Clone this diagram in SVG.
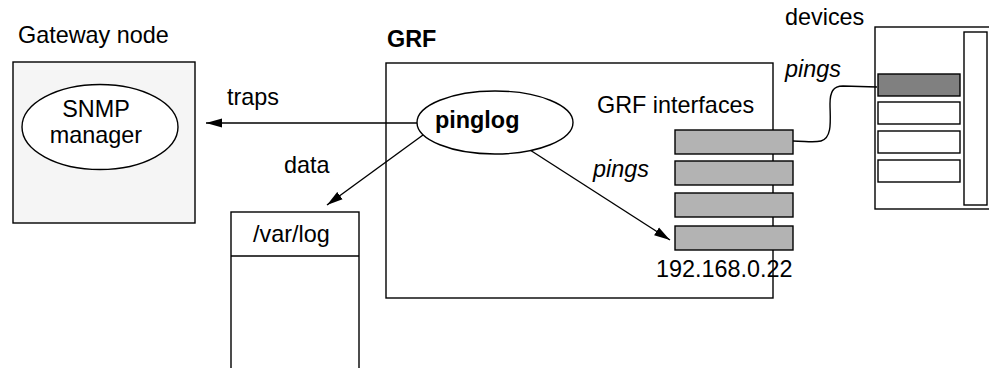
<svg xmlns="http://www.w3.org/2000/svg" width="989" height="368" viewBox="0 0 989 368">
<defs>
<style>
.s{stroke:#000;stroke-width:1.4;}
.t{font-family:"Liberation Sans",Arial,sans-serif;font-size:23.4px;fill:#000;}
.b{font-weight:bold;}
.i{font-style:italic;}
.w{fill:#fff;}
.g{fill:#b3b3b3;}
</style>
<marker id="ah" markerUnits="userSpaceOnUse" markerWidth="17" markerHeight="10" refX="16" refY="5" orient="auto">
<path d="M0,0.5 L16,5 L0,9.5 z" fill="#000"/>
</marker>
</defs>
<rect width="989" height="368" fill="#fff"/>

<g id="gateway">
<text class="t" x="18" y="43">Gateway node</text>
<rect class="s" x="13" y="62" width="182" height="161" fill="#f5f5f5"/>
</g>
<g id="snmp">
<ellipse class="s w" cx="100" cy="127" rx="78" ry="42.5"/>
<text class="t" x="96" y="117" text-anchor="middle">SNMP</text>
<text class="t" x="96" y="143" text-anchor="middle">manager</text>
</g>

<g id="grf">
<rect class="s" x="386" y="63" width="387" height="235" fill="none"/>
<text class="t b" x="387" y="47">GRF</text>
<text class="t" x="597" y="113">GRF interfaces</text>
</g>

<g id="varlog">
<rect class="s w" x="231" y="212" width="128" height="170"/>
<line class="s" x1="231" y1="256" x2="359" y2="256"/>
<text class="t" x="253" y="242">/var/log</text>
</g>

<g id="interfaces">
<rect class="s g" x="675" y="130" width="118" height="24"/>
<rect class="s g" x="675" y="161" width="118" height="24"/>
<rect class="s g" x="675" y="193" width="118" height="24"/>
<rect class="s g" x="675" y="226" width="118" height="24"/>
<text class="t" x="656" y="277">192.168.0.22</text>
</g>

<g id="devices">
<text class="t" x="785" y="25">devices</text>
<rect class="s w" x="875" y="27" width="115" height="182"/>
<rect class="s w" x="964" y="32" width="23" height="173"/>
<rect class="s" x="878" y="74" width="82" height="22" fill="#808080"/>
<rect class="s w" x="878" y="102" width="82" height="22"/>
<rect class="s w" x="878" y="131" width="82" height="22"/>
<rect class="s w" x="878" y="160" width="82" height="22"/>
</g>

<g id="connectors" fill="none">
<path class="s" d="M417,123 L206,123" marker-end="url(#ah)"/>
<path class="s" d="M423,135 L327,205" marker-end="url(#ah)"/>
<path class="s" d="M530,150 L670,240" marker-end="url(#ah)"/>
<path class="s" d="M793,141 C805,141 813,143 821,141 C833,138 830,118 830,104 C830,92 833,86 843,86 L877,87"/>
<text class="t" x="227" y="105">traps</text>
<text class="t" x="284" y="173">data</text>
<text class="t i" x="593" y="177">pings</text>
<text class="t i" x="785" y="77">pings</text>
</g>

<g id="pinglog">
<ellipse class="s w" cx="495" cy="122.5" rx="78" ry="31.5"/>
<text class="t b" x="435" y="128">pinglog</text>
</g>
</svg>
